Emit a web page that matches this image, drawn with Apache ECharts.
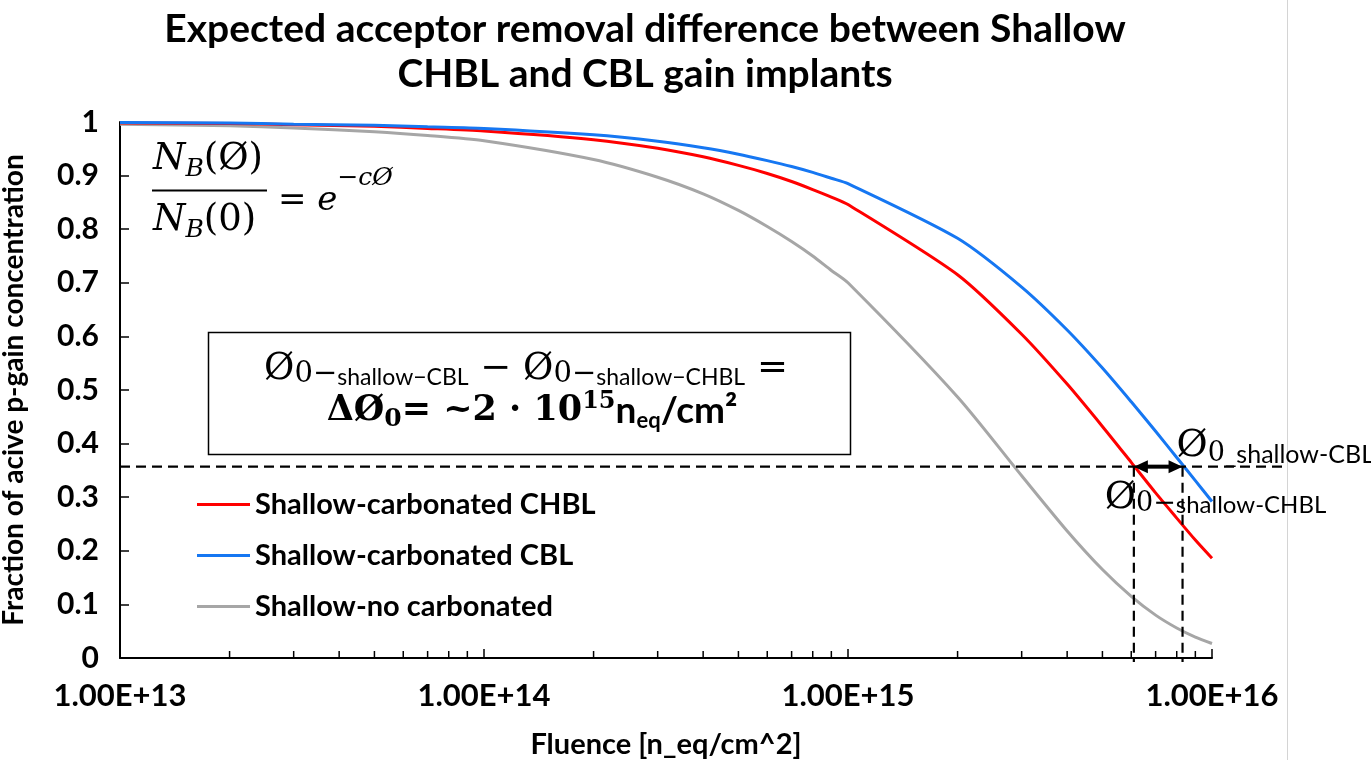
<!DOCTYPE html>
<html>
<head>
<meta charset="utf-8">
<script src="https://cdn.jsdelivr.net/npm/echarts@6/dist/echarts.min.js"></script>
<style>
  html, body { margin: 0; padding: 0; background: #ffffff; overflow: hidden; }
  #chart { width: 1371px; height: 760px; }
</style>
</head>
<body>
<div id="chart"></div>
<script>
// Fluence points (n_eq/cm^2) and the active p-gain fraction for each implant
const fluence = [1e13, 2e13, 3e13, 5e13, 7e13, 1e14, 2e14, 3e14, 4e14, 5e14, 6e14, 7e14, 8e14, 9e14,
                 1e15, 2e15, 3e15, 4e15, 5e15, 6e15, 7e15, 8e15, 9e15, 1e16];
const chblFraction = [0.998, 0.997, 0.995, 0.992, 0.988, 0.983, 0.967, 0.951, 0.935, 0.919, 0.904, 0.889, 0.874, 0.860,
                      0.846, 0.715, 0.604, 0.511, 0.432, 0.365, 0.308, 0.261, 0.220, 0.186];
const cblFraction = [0.999, 0.998, 0.996, 0.994, 0.991, 0.988, 0.976, 0.964, 0.952, 0.940, 0.928, 0.917, 0.906, 0.895,
                     0.885, 0.783, 0.692, 0.612, 0.541, 0.478, 0.423, 0.374, 0.331, 0.292];
const noCarbonFraction = [0.996, 0.993, 0.989, 0.982, 0.975, 0.965, 0.930, 0.897, 0.866, 0.835, 0.805, 0.777, 0.750, 0.723,
                          0.700, 0.487, 0.340, 0.237, 0.165, 0.115, 0.080, 0.056, 0.039, 0.027];
const seriesNames = ['Shallow-carbonated CHBL', 'Shallow-carbonated CBL', 'Shallow-no carbonated'];

// Axis range and the intermediate (2..9) log ticks
const xMin = 1e13;
const xMax = 1e16;
const minorTickValues = [2e13, 3e13, 4e13, 5e13, 6e13, 7e13, 8e13, 9e13,
                         2e14, 3e14, 4e14, 5e14, 6e14, 7e14, 8e14, 9e14,
                         2e15, 3e15, 4e15, 5e15, 6e15, 7e15, 8e15, 9e15];

// Characteristic fluence where each carbonated curve reaches the marked level
const markedLevel = 0.357;
const phi0Chbl = 6.1e15;
const phi0Cbl = 8.3e15;

const textFont = 'Lato';
const mathFont = '"DejaVu Serif", "Liberation Serif", serif';

const chart = echarts.init(document.getElementById('chart'), null, { renderer: 'canvas' });

function lineSeries(name, values, color, z) {
  return {
    name: name,
    type: 'line',
    data: fluence.map((f, i) => [f, values[i]]),
    symbol: 'none',
    showSymbol: false,
    smooth: 0.25,
    z: z,
    lineStyle: { color: color, width: 3 },
    itemStyle: { color: color },
    emphasis: { disabled: true }
  };
}

const option = {
  animation: false,
  backgroundColor: '#ffffff',
  grid: { left: 120, right: 159, top: 122, bottom: 102, containLabel: false, outerBoundsMode: 'none' },
  legend: {
    data: seriesNames,
    orient: 'vertical',
    left: 192,
    top: 485,
    icon: 'rect',
    itemWidth: 53,
    itemHeight: 3,
    itemGap: 22,
    selectedMode: false,
    textStyle: { fontFamily: textFont, fontWeight: 'bold', fontSize: 29, color: '#000' }
  },
  xAxis: {
    type: 'log',
    logBase: 10,
    min: xMin,
    max: xMax,
    name: 'Fluence [n_eq/cm^2]',
    nameLocation: 'middle',
    nameGap: 72,
    nameTextStyle: { fontFamily: textFont, fontWeight: 'bold', fontSize: 29, color: '#000' },
    axisLine: { lineStyle: { color: '#000', width: 2 } },
    axisTick: { show: true, inside: true, length: 9, lineStyle: { color: '#000', width: 1.5 } },
    minorTick: { show: false },
    splitLine: { show: false },
    axisLabel: {
      margin: 22,
      fontFamily: textFont,
      fontWeight: 'bold',
      fontSize: 31,
      color: '#000',
      formatter: v => '1.00E+' + Math.round(Math.log10(v))
    }
  },
  yAxis: {
    type: 'value',
    min: 0,
    max: 1,
    interval: 0.1,
    name: 'Fraction of acive p-gain concentration',
    nameLocation: 'middle',
    nameRotate: 90,
    nameGap: 92,
    nameTextStyle: { fontFamily: textFont, fontWeight: 'bold', fontSize: 28, color: '#000' },
    axisLine: { show: true, lineStyle: { color: '#000', width: 2 } },
    axisTick: { show: true, inside: true, length: 9, lineStyle: { color: '#000', width: 1.5 } },
    splitLine: { show: false },
    axisLabel: {
      margin: 21,
      fontFamily: textFont,
      fontWeight: 'bold',
      fontSize: 30,
      color: '#000'
    }
  },
  series: [
    lineSeries(seriesNames[0], chblFraction, '#ff0000', 3),
    lineSeries(seriesNames[1], cblFraction, '#1677f2', 4),
    lineSeries(seriesNames[2], noCarbonFraction, '#a6a6a6', 2),
    {
      // intermediate log ticks along the fluence axis
      type: 'custom',
      silent: true,
      z: 1,
      data: minorTickValues.map(v => [v, 0]),
      encode: { x: 0, y: 1 },
      renderItem: function (params, api) {
        const p = api.coord([api.value(0), 0]);
        return {
          type: 'line',
          shape: { x1: p[0], y1: p[1], x2: p[0], y2: p[1] - 7 },
          style: { stroke: '#000', lineWidth: 1.5 }
        };
      }
    },
    {
      // dashed guides, the Δφ0 arrow and the φ0 labels
      type: 'custom',
      silent: true,
      clip: false,
      z: 6,
      data: [[phi0Chbl, phi0Cbl, markedLevel]],
      encode: { x: [0, 1], y: 2 },
      renderItem: function (params, api) {
        const level = api.value(2);
        const a = api.coord([api.value(0), level]);
        const b = api.coord([api.value(1), level]);
        const start = api.coord([xMin, level]);
        const a0 = api.coord([api.value(0), 0]);
        const b0 = api.coord([api.value(1), 0]);
        const rightEnd = params.coordSys.x + params.coordSys.width + 75;
        const dash = { stroke: '#000', lineWidth: 2.2, lineDash: [10, 6], fill: null };
        const head = 14, half = 6.5;
        return {
          type: 'group',
          children: [
            { type: 'line', shape: { x1: start[0], y1: a[1], x2: rightEnd, y2: a[1] }, style: dash },
            { type: 'line', shape: { x1: a[0], y1: a[1], x2: a0[0], y2: a0[1] + 4 }, style: dash },
            { type: 'line', shape: { x1: b[0], y1: b[1], x2: b0[0], y2: b0[1] + 4 }, style: dash },
            { type: 'line', shape: { x1: a[0] + head - 2, y1: a[1], x2: b[0] - head + 2, y2: b[1] },
              style: { stroke: '#000', lineWidth: 4 } },
            { type: 'polygon', shape: { points: [[a[0], a[1]], [a[0] + head, a[1] - half], [a[0] + head, a[1] + half]] },
              style: { fill: '#000' } },
            { type: 'polygon', shape: { points: [[b[0], b[1]], [b[0] - head, b[1] - half], [b[0] - head, b[1] + half]] },
              style: { fill: '#000' } },
            {
              type: 'text',
              x: b[0] - 6,
              y: b[1] - 43,
              style: {
                text: '{phi|Ø}{z|0}{s|_shallow-CBL}',
                rich: {
                  phi: { fontFamily: mathFont, fontSize: 38, lineHeight: 44, fill: '#000', verticalAlign: 'middle' },
                  z: { fontFamily: mathFont, fontSize: 27, lineHeight: 26, fill: '#000', verticalAlign: 'bottom' },
                  s: { fontFamily: textFont, fontSize: 25, lineHeight: 36, fill: '#000', verticalAlign: 'bottom' }
                }
              }
            },
            {
              type: 'text',
              x: a[0] - 29,
              y: a[1] + 11,
              style: {
                text: '{phi|Ø}{z|0−}{s|shallow-CHBL}',
                rich: {
                  phi: { fontFamily: mathFont, fontSize: 38, lineHeight: 40, fill: '#000', verticalAlign: 'middle' },
                  z: { fontFamily: mathFont, fontSize: 27, lineHeight: 24, fill: '#000', verticalAlign: 'bottom' },
                  s: { fontFamily: textFont, fontSize: 24, lineHeight: 30, fill: '#000', verticalAlign: 'bottom' }
                }
              }
            }
          ]
        };
      }
    }
  ],
  graphic: [
    // page divider on the right
    { type: 'line', shape: { x1: 1287.5, y1: 0, x2: 1287.5, y2: 760 }, style: { stroke: '#d4d4d4', lineWidth: 1 }, silent: true },
    // title
    {
      type: 'text',
      x: 645,
      y: 7,
      style: {
        text: 'Expected acceptor removal difference between Shallow\nCHBL and CBL gain implants',
        textAlign: 'center',
        fontFamily: textFont,
        fontWeight: 'bold',
        fontSize: 39,
        lineHeight: 45,
        fill: '#000'
      },
      silent: true
    },
    // N_B(φ)/N_B(0) = e^(−cφ)
    {
      type: 'text',
      x: 153,
      y: 136,
      style: {
        text: '{n|N}{s|B}{p|(Ø)}',
        rich: {
          n: { fontFamily: mathFont, fontStyle: 'italic', fontSize: 37, lineHeight: 46, fill: '#000', verticalAlign: 'middle' },
          s: { fontFamily: mathFont, fontStyle: 'italic', fontSize: 25, lineHeight: 30, fill: '#000', verticalAlign: 'bottom' },
          p: { fontFamily: mathFont, fontSize: 37, lineHeight: 46, fill: '#000', verticalAlign: 'middle' }
        }
      },
      silent: true
    },
    { type: 'line', shape: { x1: 152, y1: 190.5, x2: 267, y2: 190.5 }, style: { stroke: '#000', lineWidth: 2 }, silent: true },
    {
      type: 'text',
      x: 153,
      y: 197,
      style: {
        text: '{n|N}{s|B}{p|(0)}',
        rich: {
          n: { fontFamily: mathFont, fontStyle: 'italic', fontSize: 37, lineHeight: 46, fill: '#000', verticalAlign: 'middle' },
          s: { fontFamily: mathFont, fontStyle: 'italic', fontSize: 25, lineHeight: 30, fill: '#000', verticalAlign: 'bottom' },
          p: { fontFamily: mathFont, fontSize: 37, lineHeight: 46, fill: '#000', verticalAlign: 'middle' }
        }
      },
      silent: true
    },
    {
      type: 'text',
      x: 278,
      y: 166,
      style: {
        text: '{eq|= }{e|e}{sup|−cØ}',
        rich: {
          eq: { fontFamily: mathFont, fontSize: 34, lineHeight: 52, fill: '#000', verticalAlign: 'bottom' },
          e: { fontFamily: mathFont, fontStyle: 'italic', fontSize: 34, lineHeight: 52, fill: '#000', verticalAlign: 'bottom' },
          sup: { fontFamily: mathFont, fontStyle: 'italic', fontSize: 25, lineHeight: 30, fill: '#000', verticalAlign: 'top' }
        }
      },
      silent: true
    },
    // boxed Δφ0 statement
    {
      type: 'rect',
      shape: { x: 208.5, y: 332.5, width: 642, height: 122 },
      style: { fill: '#fff', stroke: '#000', lineWidth: 1.5 },
      z: 5,
      silent: true
    },
    {
      type: 'text',
      x: 526,
      y: 349,
      z: 6,
      style: {
        text: '{phi|Ø}{z|0−}{s|shallow−CBL}{op| − }{phi|Ø}{z|0−}{s|shallow−CHBL}{op| =}',
        textAlign: 'center',
        rich: {
          phi: { fontFamily: mathFont, fontSize: 37, lineHeight: 40, fill: '#000', verticalAlign: 'middle' },
          z: { fontFamily: mathFont, fontSize: 29, lineHeight: 24, fill: '#000', verticalAlign: 'bottom' },
          s: { fontFamily: textFont, fontSize: 23, lineHeight: 26, fill: '#000', verticalAlign: 'bottom' },
          op: { fontFamily: mathFont, fontSize: 37, lineHeight: 40, fill: '#000', verticalAlign: 'middle' }
        }
      },
      silent: true
    },
    {
      type: 'text',
      x: 532,
      y: 390,
      z: 6,
      style: {
        text: '{d|ΔØ}{z|0}{d|= ~2 · 10}{sup|15}{n|n}{sub|eq}{n|/cm²}',
        textAlign: 'center',
        rich: {
          d: { fontFamily: mathFont, fontWeight: 'bold', fontSize: 35, lineHeight: 42, fill: '#000', verticalAlign: 'middle' },
          z: { fontFamily: mathFont, fontWeight: 'bold', fontSize: 25, lineHeight: 22, fill: '#000', verticalAlign: 'bottom' },
          sup: { fontFamily: mathFont, fontWeight: 'bold', fontSize: 24, lineHeight: 24, fill: '#000', verticalAlign: 'top' },
          n: { fontFamily: textFont, fontWeight: 'bold', fontSize: 37, lineHeight: 42, fill: '#000', verticalAlign: 'middle' },
          sub: { fontFamily: textFont, fontWeight: 'bold', fontSize: 22, lineHeight: 18, fill: '#000', verticalAlign: 'bottom' }
        }
      },
      silent: true
    }
  ]
};

chart.setOption(option);
</script>
</body>
</html>
